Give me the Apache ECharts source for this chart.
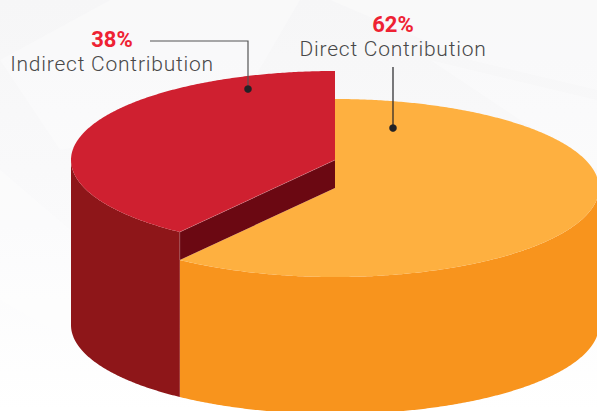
<!DOCTYPE html>
<html><head><meta charset="utf-8">
<style>html,body{margin:0;padding:0;background:#fff}#c{width:597px;height:411px}
#c svg text[style*="21px"]{letter-spacing:.77px}</style>
<script src="https://cdn.jsdelivr.net/npm/echarts@6/dist/echarts.min.js"></script>
</head><body><div id="c"></div>
<script>
const categories = ['Direct Contribution', 'Indirect Contribution'];
const sliceValues = [62, 38];
const valueLabels = ['62%', '38%'];

// Artwork layout (not data)
const CX = 335, RX = 264, RY = 89;
const BOTTOM_CY = 325;
const TOP_CY = [188, 160];             // top-face centre of each slice
const ARTWORK_SKEW = 7.2;              // the artwork's cut sits this many degrees past the true share
const TOP_COLOR = ['#FEB040', '#CF2030'];
const SIDE_COLOR = ['#F8941D', '#8E1619'];
const WALL_COLOR = '#6B0812';

const total = sliceValues.reduce((a, b) => a + b, 0);
const cutDeg = 360 - (sliceValues[1] / total * 360 + ARTWORK_SKEW);

function pt(deg, cy) {
  const t = deg * Math.PI / 180;
  return [CX + RX * Math.sin(t), cy - RY * Math.cos(t)];
}
function arc(from, to, cy) {
  const n = Math.max(2, Math.ceil(Math.abs(to - from) * 2));
  const out = [];
  for (let i = 0; i <= n; i++) out.push(pt(from + (to - from) * i / n, cy));
  return out;
}

function renderSlice(params, api) {
  const i = api.value(1);
  const cy = TOP_CY[i];
  const children = [];
  if (i === 0) {
    children.push({ type: 'polygon', shape: { points: arc(90, cutDeg, cy).concat(arc(cutDeg, 90, BOTTOM_CY)) }, style: { fill: SIDE_COLOR[0] } });
    children.push({ type: 'polygon', shape: { points: [[CX, cy]].concat(arc(0, cutDeg, cy)) }, style: { fill: TOP_COLOR[0] } });
  } else {
    children.push({ type: 'polygon', shape: { points: arc(cutDeg, 270, cy).concat(arc(270, cutDeg, BOTTOM_CY)) }, style: { fill: SIDE_COLOR[1] } });
    const a = pt(cutDeg, cy), b = pt(cutDeg, TOP_CY[0]);
    children.push({ type: 'polygon', shape: { points: [[CX, cy], a, b, [CX, TOP_CY[0]]] }, style: { fill: WALL_COLOR } });
    children.push({ type: 'polygon', shape: { points: [[CX, cy]].concat(arc(cutDeg, 360, cy)) }, style: { fill: TOP_COLOR[1] } });
    children.push({ type: 'polyline', shape: { points: [[CX, cy], a, b] }, style: { fill: 'none', stroke: 'rgba(255,255,255,0.3)', lineWidth: 0.6 } });
  }
  return { type: 'group', children };
}

const labelFont = '300 21px Roboto, sans-serif';
const pctFont = '700 22px Roboto, sans-serif';
const TEXT_GRAY = '#484848', PCT_RED = '#EE2233', LEAD = '#222226';

const bgShapes = [
  [[0,60],[110,0],[300,0],[230,120],[60,150]],
  [[330,0],[597,0],[597,90],[470,60]],
  [[0,170],[70,230],[70,340],[0,300]],
  [[430,60],[597,100],[597,170],[520,120]]
];

const chart = echarts.init(document.getElementById('c'), null, { renderer: 'svg' });
chart.setOption({
  animation: false,
  backgroundColor: { type: 'linear', x: 0, y: 0, x2: 0, y2: 1, colorStops: [{ offset: 0, color: '#F6F6F7' }, { offset: 0.55, color: '#FAFAFB' }, { offset: 1, color: '#FFFFFF' }] },
  graphic: [
    ...bgShapes.map(p => ({ type: 'polygon', z: -1, silent: true, shape: { points: p }, style: { fill: 'rgba(255,255,255,0.3)' } })),
    { type: 'polyline', z: 20, shape: { points: [[150, 41], [248, 41], [248, 89]] }, style: { fill: 'none', stroke: '#555', lineWidth: 1.2 } },
    { type: 'circle', z: 20, shape: { cx: 248, cy: 89, r: 3.8 }, style: { fill: LEAD } },
    { type: 'line', z: 20, shape: { x1: 393, y1: 67, x2: 393, y2: 128 }, style: { stroke: LEAD, lineWidth: 1.2 } },
    { type: 'circle', z: 20, shape: { cx: 393, cy: 128, r: 3.8 }, style: { fill: LEAD } },
    { type: 'text', z: 20, style: { text: valueLabels[1], x: 112, y: 39, font: pctFont, fill: PCT_RED, align: 'center', verticalAlign: 'middle' } },
    { type: 'text', z: 20, style: { text: categories[1], x: 112, y: 64, font: labelFont, fill: TEXT_GRAY, align: 'center', verticalAlign: 'middle' } },
    { type: 'text', z: 20, style: { text: valueLabels[0], x: 393, y: 24.5, font: pctFont, fill: PCT_RED, align: 'center', verticalAlign: 'middle' } },
    { type: 'text', z: 20, style: { text: categories[0], x: 393, y: 48.5, font: labelFont, fill: TEXT_GRAY, align: 'center', verticalAlign: 'middle' } }
  ],
  series: [{
    type: 'custom',
    coordinateSystem: 'none',
    silent: true,
    renderItem: renderSlice,
    data: sliceValues.map((v, i) => ({ name: categories[i], value: [v, i] }))
  }]
});
</script></body></html>
